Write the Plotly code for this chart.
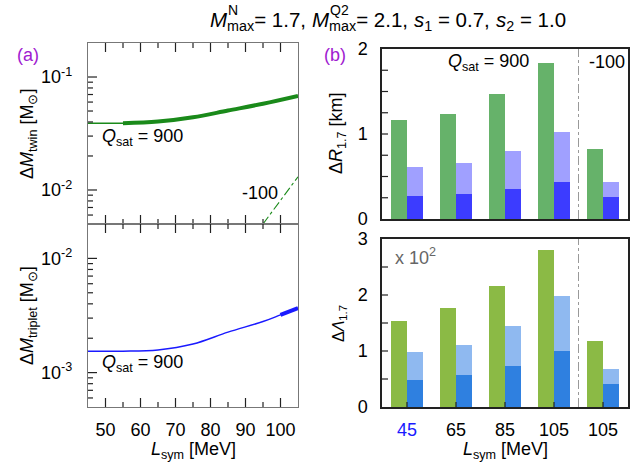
import math
import plotly.graph_objects as go

# ---------------- data ----------------
L_twin_900 = [45, 55, 65, 75, 85, 95, 105]
dM_twin_900 = [0.039, 0.039, 0.0403, 0.044, 0.0505, 0.058, 0.068]
L_twin_900_thick = [55, 65, 75, 85, 95, 105]
dM_twin_900_thick = [0.039, 0.0403, 0.044, 0.0505, 0.058, 0.068]
L_twin_m100 = [95, 100, 105]
dM_twin_m100 = [0.0050, 0.0081, 0.0131]

L_trip_900 = [45, 55, 65, 75, 85, 95, 100, 105]
dM_trip_900 = [0.00154, 0.00154, 0.00158, 0.00178, 0.00226, 0.0028, 0.0032, 0.00367]
L_trip_900_thick = [100, 105]
dM_trip_900_thick = [0.0032, 0.00367]

bar_pos = [0, 1, 2, 3, 4]
bar_labels = ['<span style="color:#1a1aff">45</span>', '65', '85', '105', '105']

dR_green = [1.165, 1.235, 1.47, 1.835, 0.824]
dR_light = [0.615, 0.662, 0.80, 1.027, 0.435]
dR_dark = [0.274, 0.298, 0.353, 0.435, 0.259]

dLam_green = [1.532, 1.765, 2.159, 2.803, 1.175]
dLam_light = [0.978, 1.103, 1.443, 1.98, 0.674]
dLam_dark = [0.477, 0.566, 0.727, 0.996, 0.405]

L_major_ticks = [50, 60, 70, 80, 90, 100]
L_minor_ticks = [55, 65, 75, 85, 95]
R_ticks = [0.25, 0.5, 0.75, 1.0, 1.25, 1.5, 1.75]
Lam_ticks = [0.5, 1.0, 1.5, 2.0, 2.5]

# ---------------- layout helpers ----------------
W, H = 638, 466
def px(x):
    return x / W
def py(y):
    return 1 - y / H

FONT = "Liberation Sans, Arial, sans-serif"
FS = 18
GREEN = "#1a8a1a"
BLUE = "#1a1aff"
PURPLE = "#a020d0"

# panel geometry in pixels (left, right, top, bottom)
P_LT = (88, 298, 43, 224)
P_LB = (88, 298, 224, 407)
P_RT = (382, 628, 49, 219)
P_RB = (382, 628, 239, 407)

XR_L = [45, 105]
YR_TOP = [math.log10(0.005), math.log10(0.2)]
YR_BOT = [math.log10(0.0005), math.log10(0.02)]
XR_BAR = [-0.51, 4.51]
YR_R = [0, 2]
YR_LAM = [0, 3]

fig = go.Figure()

# left top
fig.add_trace(go.Scatter(x=L_twin_900, y=dM_twin_900, mode="lines",
                         line=dict(color=GREEN, width=1.5), xaxis="x", yaxis="y", showlegend=False))
fig.add_trace(go.Scatter(x=L_twin_900_thick, y=dM_twin_900_thick, mode="lines",
                         line=dict(color=GREEN, width=4, shape="spline"), xaxis="x", yaxis="y", showlegend=False))
fig.add_trace(go.Scatter(x=L_twin_m100, y=dM_twin_m100, mode="lines",
                         line=dict(color=GREEN, width=1.1, dash="dashdot"), xaxis="x", yaxis="y", showlegend=False))
# left bottom
fig.add_trace(go.Scatter(x=L_trip_900, y=dM_trip_900, mode="lines",
                         line=dict(color=BLUE, width=1.5, shape="spline"), xaxis="x2", yaxis="y2", showlegend=False))
fig.add_trace(go.Scatter(x=L_trip_900_thick, y=dM_trip_900_thick, mode="lines",
                         line=dict(color=BLUE, width=4), xaxis="x2", yaxis="y2", showlegend=False))

BW = 0.327
for vals, col, off in [(dR_green, "#66b26a", -BW), (dR_light, "#a0a0ff", 0), (dR_dark, "#3c3cff", 0)]:
    fig.add_trace(go.Bar(x=bar_pos, y=vals, width=BW, offset=off, marker=dict(color=col, line=dict(width=0)),
                         xaxis="x3", yaxis="y3", showlegend=False))
for vals, col, off in [(dLam_green, "#8bba45", -BW), (dLam_light, "#8fb9f0", 0), (dLam_dark, "#2f80e0", 0)]:
    fig.add_trace(go.Bar(x=bar_pos, y=vals, width=BW, offset=off, marker=dict(color=col, line=dict(width=0)),
                         xaxis="x4", yaxis="y4", showlegend=False))

# ---------- tick marks drawn as line traces, positions from tick lists and axis ranges ----------
TK = "#222222"

def add_ticks(xa, ya, segs, color=TK):
    xs, ys = [], []
    for (x0, y0, x1, y1) in segs:
        xs += [x0, x1, None]
        ys += [y0, y1, None]
    fig.add_trace(go.Scatter(x=xs, y=ys, mode="lines", line=dict(color=color, width=1.2),
                             xaxis=xa, yaxis=ya, showlegend=False, hoverinfo="skip", cliponaxis=False))

def left_panel_ticks(xa, ya, panel, yr, decades):
    hpx = panel[3] - panel[2]
    wpx = panel[1] - panel[0]
    segs = []
    for vals, ln in [(L_major_ticks, 9), (L_minor_ticks, 5)]:
        dl = ln / hpx * (yr[1] - yr[0])
        for v in vals:
            segs.append((v, 10 ** yr[0], v, 10 ** (yr[0] + dl)))
            segs.append((v, 10 ** yr[1], v, 10 ** (yr[1] - dl)))
    for d in decades:
        for k in range(1, 10):
            val = k * d
            lv = math.log10(val)
            if yr[0] < lv < yr[1]:
                ln = 9 if k == 1 else 5
                dx = ln / wpx * (XR_L[1] - XR_L[0])
                segs.append((XR_L[0], val, XR_L[0] + dx, val))
    add_ticks(xa, ya, segs)

left_panel_ticks("x", "y", P_LT, YR_TOP, [0.001, 0.01, 0.1])
left_panel_ticks("x2", "y2", P_LB, YR_BOT, [0.0001, 0.001, 0.01])

def right_y_ticks(xa, ya, panel, yr, vals):
    wpx = panel[1] - panel[0]
    dx = 6 / wpx * (XR_BAR[1] - XR_BAR[0])
    add_ticks(xa, ya, [(XR_BAR[0], v, XR_BAR[0] + dx, v) for v in vals], color="#222")

right_y_ticks("x3", "y3", P_RT, YR_R, R_ticks)
right_y_ticks("x4", "y4", P_RB, YR_LAM, Lam_ticks)
dy_b = 5 / (P_RB[3] - P_RB[2]) * (YR_LAM[1] - YR_LAM[0])
add_ticks("x4", "y4", [(v, 0, v, dy_b) for v in bar_pos], color="#222")

LGREY = "#777777"
left_x_common = dict(range=XR_L, showline=True, linecolor=LGREY, linewidth=1.2, mirror=True,
                     ticks="", tickmode="linear", tick0=0, dtick=10,
                     showgrid=False, zeroline=False, domain=[px(P_LT[0]), px(P_LT[1])],
                     tickfont=dict(family=FONT, size=FS, color="black"))
left_y_common = dict(type="log", showline=True, linecolor=LGREY, linewidth=1.2, mirror=True,
                     ticks="", showgrid=False, zeroline=False, ticklabelstandoff=11,
                     tickfont=dict(family=FONT, size=FS, color="black"))

fig.update_layout(
    template="none",
    width=W, height=H, margin=dict(l=0, r=0, t=0, b=0), autosize=False,
    paper_bgcolor="white", plot_bgcolor="rgba(0,0,0,0)", barmode="overlay", bargap=0,
    xaxis=dict(**left_x_common, anchor="y", showticklabels=False),
    yaxis=dict(**left_y_common, domain=[py(P_LT[3]), py(P_LT[2])], anchor="x",
               range=YR_TOP, tickmode="array", tickvals=[0.01, 0.1],
               ticktext=["10<sup>-2</sup>", "10<sup>-1</sup>"]),
    xaxis2=dict(**left_x_common, anchor="y2", showticklabels=True, ticklabelstandoff=6),
    yaxis2=dict(**left_y_common, domain=[py(P_LB[3]), py(P_LB[2])], anchor="x2",
                range=YR_BOT, tickmode="array", tickvals=[0.001, 0.01],
                ticktext=["10<sup>-3</sup>", "10<sup>-2</sup>"]),
    xaxis3=dict(domain=[px(P_RT[0]), px(P_RT[1])], anchor="y3", range=XR_BAR, showline=True,
                linecolor="#222", linewidth=1.5, mirror=True, ticks="", showticklabels=False,
                showgrid=False, zeroline=False),
    yaxis3=dict(domain=[py(P_RT[3]), py(P_RT[2])], anchor="x3", range=YR_R, showline=True,
                linecolor="#222", linewidth=1.5, mirror=True, ticks="",
                tickmode="array", tickvals=[0, 1, 2], ticklabelstandoff=9,
                showgrid=False, zeroline=False, tickfont=dict(family=FONT, size=FS, color="black")),
    xaxis4=dict(domain=[px(P_RB[0]), px(P_RB[1])], anchor="y4", range=XR_BAR, showline=True,
                linecolor="#222", linewidth=1.5, mirror=True, ticks="", ticklabelstandoff=6,
                tickmode="array", tickvals=bar_pos, ticktext=bar_labels,
                showgrid=False, zeroline=False, tickfont=dict(family=FONT, size=FS, color="black")),
    yaxis4=dict(domain=[py(P_RB[3]), py(P_RB[2])], anchor="x4", range=YR_LAM, showline=True,
                linecolor="#222", linewidth=1.5, mirror=True, ticks="",
                tickmode="array", tickvals=[0, 1, 2, 3], ticklabelstandoff=9,
                showgrid=False, zeroline=False, tickfont=dict(family=FONT, size=FS, color="black")),
)

# divider lines
for xa, ya in [("x3", "y3"), ("x4", "y4")]:
    fig.add_shape(type="line", xref=xa, yref=f"{ya} domain",
                  x0=3.5, x1=3.5, y0=0, y1=1, line=dict(color="#999", width=1, dash="dashdot"))

ann = []
def A(x, y, text, size=FS, color="black", xanchor="center", yanchor="middle", angle=0):
    ann.append(dict(x=px(x), y=py(y), xref="paper", yref="paper", text=text, showarrow=False,
                    xanchor=xanchor, yanchor=yanchor, textangle=angle,
                    font=dict(family=FONT, size=size, color=color)))

# title pieces
TFS = 20.5
A(208, 21, "<i>M</i><sub>max</sub>= 1.7,", size=TFS, xanchor="left")
A(226, 10, "N", size=14, xanchor="left")
A(310, 21, "<i>M</i><sub>max</sub>= 2.1,", size=TFS, xanchor="left")
A(328, 10, "Q2", size=14, xanchor="left")
A(412, 21, "<i>s</i><sub>1</sub> = 0.7,", size=TFS, xanchor="left")
A(494, 21, "<i>s</i><sub>2</sub> = 1.0", size=TFS, xanchor="left")

A(28, 55, "(a)", color=PURPLE)
A(335, 55, "(b)", color=PURPLE)

A(100, 137, "<i>Q</i><sub>sat</sub> = 900", xanchor="left")
A(240, 193, "-100", xanchor="left")
A(100, 363, "<i>Q</i><sub>sat</sub> = 900", xanchor="left")
A(446, 63, "<i>Q</i><sub>sat</sub> = 900", xanchor="left")
A(587, 62, "-100", xanchor="left")
A(393, 256, "x 10<sup>2</sup>", color="#666", xanchor="left")

A(28, 134, "Δ<i>M</i><sub>twin</sub> [M<sub>⊙</sub>]", angle=-90)
A(28, 316, "Δ<i>M</i><sub>triplet</sub> [M<sub>⊙</sub>]", angle=-90)
A(337, 133, "Δ<i>R</i><sub>1.7</sub> [km]", angle=-90)
A(339, 324, "Δ<i>Λ</i><sub>1.7</sub>", size=16, angle=-90)
A(193, 450, "<i>L</i><sub>sym</sub> [MeV]")
A(505, 450, "<i>L</i><sub>sym</sub> [MeV]")

fig.update_layout(annotations=ann)
fig.write_html("out.html", config={"displayModeBar": False},
               post_script="document.body.style.margin='0';document.body.style.overflow='hidden';")
